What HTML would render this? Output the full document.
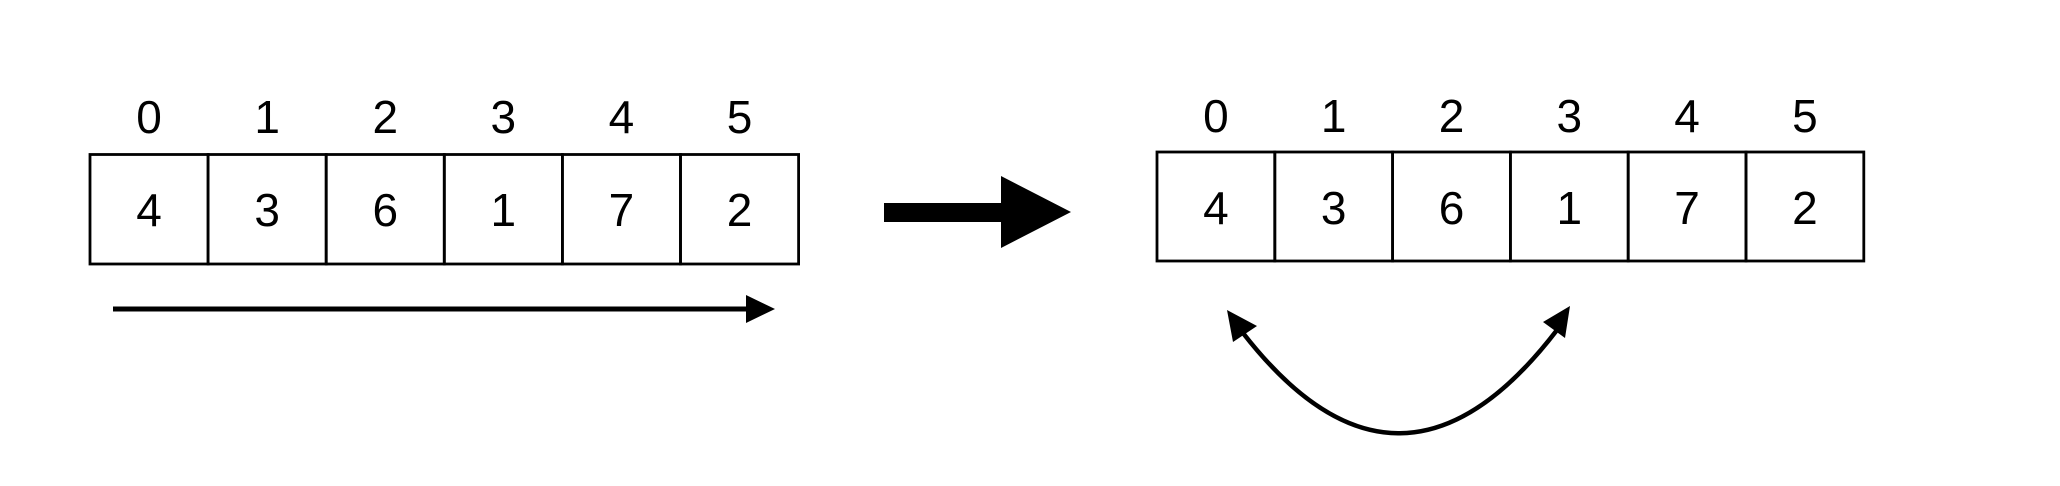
<!DOCTYPE html>
<html><head><meta charset="utf-8"><style>
html,body{margin:0;padding:0;background:#fff;width:2060px;height:486px;overflow:hidden}
svg text{font-family:"Liberation Sans",sans-serif;font-size:46px;fill:#000}
</style></head><body>
<svg id="c" width="2060" height="486" viewBox="0 0 2060 486">
<g id="left"></g>
<g id="right"></g>
<polyline points="113,309 748,309" stroke="#000" stroke-width="5" fill="none"/>
<polygon points="746,295 775,309 746,323" fill="#000"/>
<polygon points="884,203 1001,203 1001,176 1071,212 1001,248 1001,222 884,222" fill="#000"/>
<path d="M1243,333 Q1400,535 1557,330" stroke="#000" stroke-width="4.5" fill="none"/>
<polygon points="1227,310 1233,342 1257,326" fill="#000"/>
<polygon points="1570,306 1543,322 1565,338" fill="#000"/>
</svg>
<script>
const indices = [0,1,2,3,4,5];
const values = [4,3,6,1,7,2];
const NS='http://www.w3.org/2000/svg';
function drawArray(g, x0, y0, cw, ch, labelY, valY){
  values.forEach((v,i)=>{
    const r=document.createElementNS(NS,'rect');
    r.setAttribute('x',x0+i*cw);r.setAttribute('y',y0);
    r.setAttribute('width',cw);r.setAttribute('height',ch);
    r.setAttribute('fill','none');r.setAttribute('stroke','#000');r.setAttribute('stroke-width','2.8');
    
    
    g.appendChild(r);
    const t=document.createElementNS(NS,'text');
    t.setAttribute('x',x0+i*cw+cw/2);t.setAttribute('y',valY);t.setAttribute('text-anchor','middle');
    t.textContent=v;
    
    
    g.appendChild(t);
    const l=document.createElementNS(NS,'text');
    l.setAttribute('x',x0+i*cw+cw/2);l.setAttribute('y',labelY);l.setAttribute('text-anchor','middle');
    l.textContent=indices[i];
    
    
    g.appendChild(l);
  });
}
drawArray(document.getElementById('left'),90,154.5,118.1,109.5,133,226);
drawArray(document.getElementById('right'),1157,152,117.8,109,132,224);
</script>
</body></html>
